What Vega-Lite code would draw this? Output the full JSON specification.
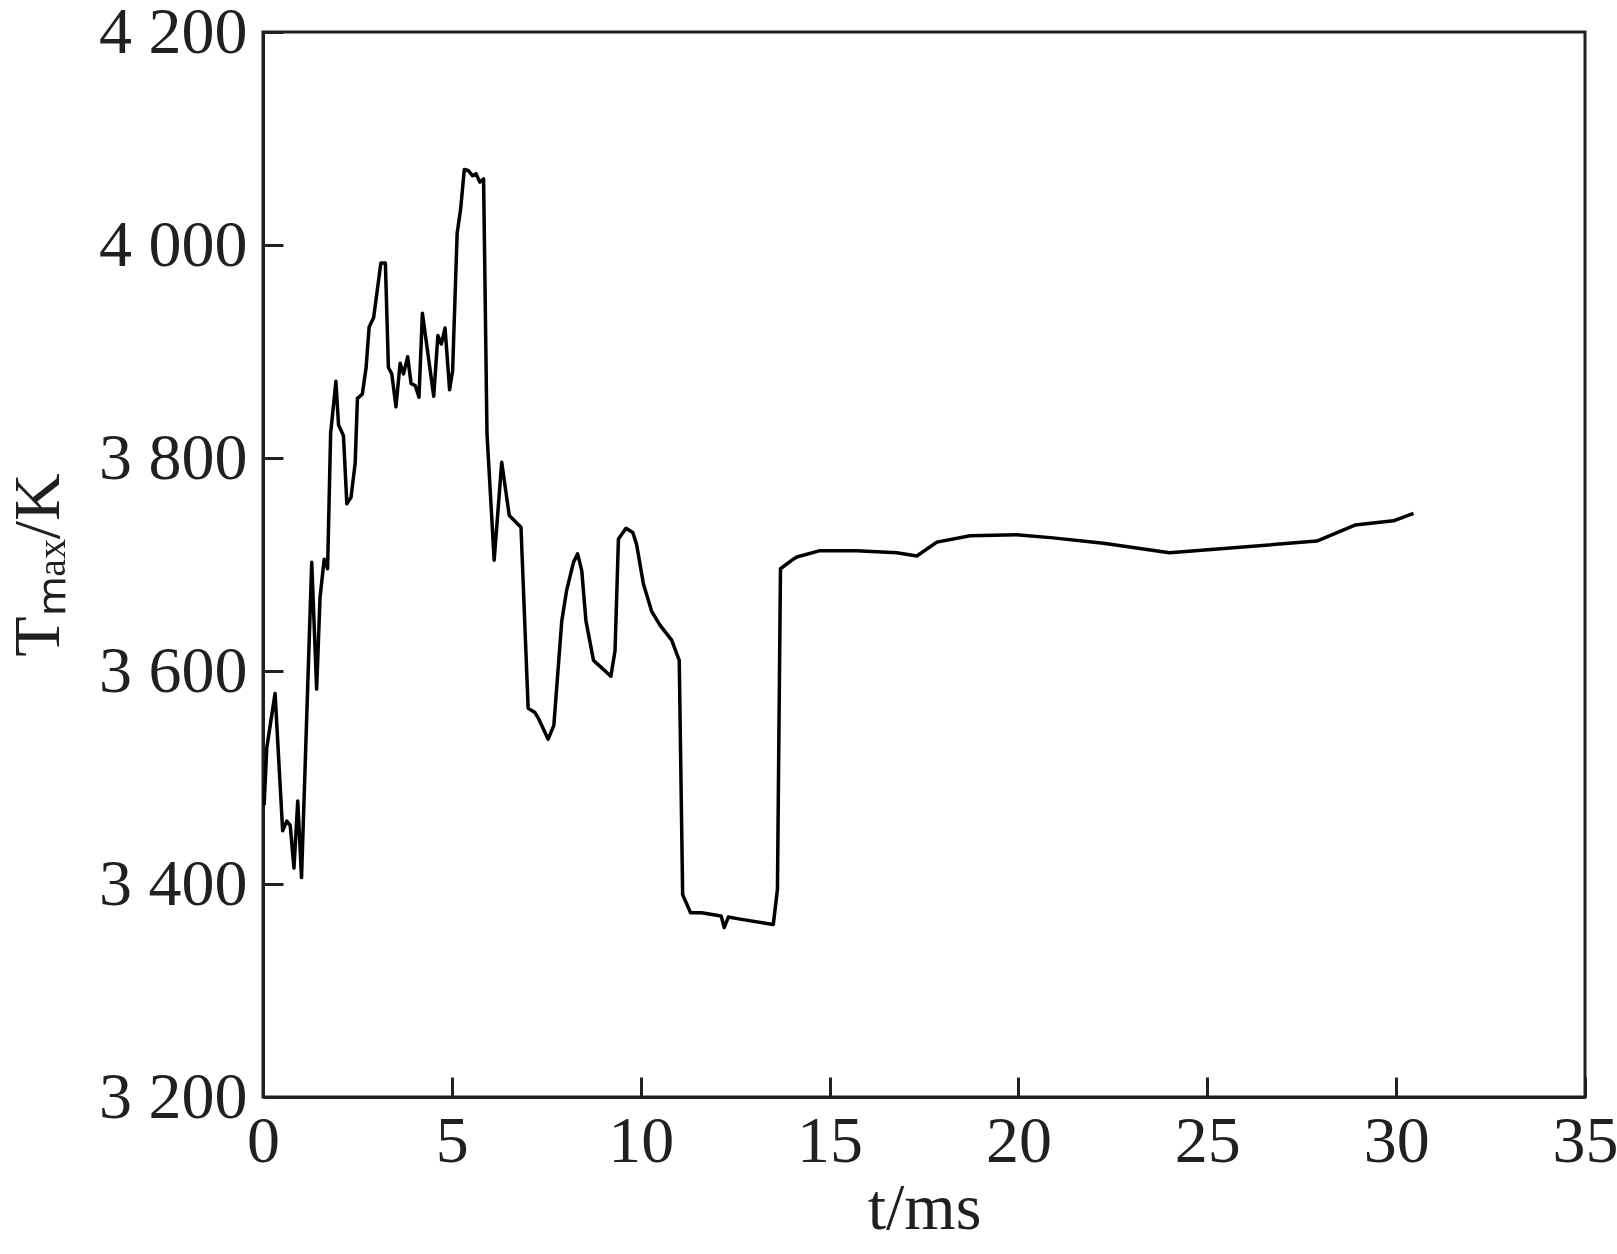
{
  "$schema": "https://vega.github.io/schema/vega-lite/v6.json",
  "width": 1322,
  "height": 1065,
  "autosize": {"type": "none"},
  "padding": {"left": 263, "top": 32, "right": 32, "bottom": 157},
  "background": "white",
  "config": {
    "view": {"stroke": "#231f20", "strokeWidth": 3},
    "font": "Liberation Serif",
    "axis": {
      "grid": false,
      "domainColor": "#231f20",
      "domainWidth": 3,
      "tickColor": "#231f20",
      "tickWidth": 3,
      "tickSize": -20,
      "labelFont": "Liberation Serif",
      "labelFontSize": 66,
      "labelColor": "#231f20",
      "titleFont": "Liberation Serif",
      "titleFontSize": 66,
      "titleFontWeight": "normal",
      "titleColor": "#231f20"
    }
  },
  "data": {
    "values": [
      {"t": 0.03, "T": 3474}, {"t": 0.10, "T": 3528}, {"t": 0.32, "T": 3579}, {"t": 0.52, "T": 3450},
      {"t": 0.63, "T": 3459}, {"t": 0.72, "T": 3455}, {"t": 0.82, "T": 3415}, {"t": 0.92, "T": 3478},
      {"t": 1.02, "T": 3406}, {"t": 1.29, "T": 3702}, {"t": 1.42, "T": 3583}, {"t": 1.51, "T": 3669},
      {"t": 1.62, "T": 3705}, {"t": 1.71, "T": 3696}, {"t": 1.79, "T": 3823}, {"t": 1.93, "T": 3872},
      {"t": 2.00, "T": 3831}, {"t": 2.13, "T": 3821}, {"t": 2.22, "T": 3757}, {"t": 2.33, "T": 3763},
      {"t": 2.44, "T": 3795}, {"t": 2.50, "T": 3856}, {"t": 2.63, "T": 3860}, {"t": 2.73, "T": 3885},
      {"t": 2.81, "T": 3923}, {"t": 2.93, "T": 3932}, {"t": 3.12, "T": 3983}, {"t": 3.24, "T": 3983},
      {"t": 3.32, "T": 3885}, {"t": 3.41, "T": 3879}, {"t": 3.52, "T": 3848}, {"t": 3.63, "T": 3889},
      {"t": 3.72, "T": 3879}, {"t": 3.83, "T": 3895}, {"t": 3.92, "T": 3870}, {"t": 4.03, "T": 3868},
      {"t": 4.13, "T": 3857}, {"t": 4.22, "T": 3936}, {"t": 4.52, "T": 3858}, {"t": 4.63, "T": 3915},
      {"t": 4.72, "T": 3907}, {"t": 4.82, "T": 3922}, {"t": 4.94, "T": 3864}, {"t": 5.02, "T": 3882},
      {"t": 5.14, "T": 4011}, {"t": 5.23, "T": 4033}, {"t": 5.33, "T": 4071}, {"t": 5.43, "T": 4070},
      {"t": 5.55, "T": 4065}, {"t": 5.64, "T": 4067}, {"t": 5.74, "T": 4059}, {"t": 5.84, "T": 4062},
      {"t": 5.93, "T": 3823}, {"t": 6.12, "T": 3704}, {"t": 6.32, "T": 3796}, {"t": 6.52, "T": 3746},
      {"t": 6.83, "T": 3735}, {"t": 7.02, "T": 3565}, {"t": 7.20, "T": 3561}, {"t": 7.30, "T": 3555},
      {"t": 7.55, "T": 3536}, {"t": 7.70, "T": 3549}, {"t": 7.91, "T": 3647}, {"t": 8.04, "T": 3676},
      {"t": 8.22, "T": 3702}, {"t": 8.33, "T": 3710}, {"t": 8.44, "T": 3694}, {"t": 8.55, "T": 3647},
      {"t": 8.75, "T": 3610}, {"t": 9.21, "T": 3595}, {"t": 9.32, "T": 3619}, {"t": 9.41, "T": 3724},
      {"t": 9.61, "T": 3734}, {"t": 9.79, "T": 3730}, {"t": 9.89, "T": 3719}, {"t": 10.07, "T": 3682},
      {"t": 10.29, "T": 3656}, {"t": 10.51, "T": 3643}, {"t": 10.82, "T": 3629}, {"t": 11.02, "T": 3610},
      {"t": 11.11, "T": 3390}, {"t": 11.32, "T": 3373}, {"t": 11.61, "T": 3373}, {"t": 12.13, "T": 3370},
      {"t": 12.21, "T": 3359}, {"t": 12.32, "T": 3369}, {"t": 12.63, "T": 3367}, {"t": 13.51, "T": 3362},
      {"t": 13.62, "T": 3395}, {"t": 13.70, "T": 3696}, {"t": 14.04, "T": 3705}, {"t": 14.13, "T": 3707},
      {"t": 14.75, "T": 3713}, {"t": 15.72, "T": 3713}, {"t": 16.78, "T": 3711}, {"t": 17.31, "T": 3708},
      {"t": 17.84, "T": 3721}, {"t": 18.72, "T": 3727}, {"t": 19.95, "T": 3728}, {"t": 20.92, "T": 3725},
      {"t": 22.25, "T": 3720}, {"t": 24.0, "T": 3711}, {"t": 27.9, "T": 3722}, {"t": 28.91, "T": 3737},
      {"t": 29.93, "T": 3741}, {"t": 30.46, "T": 3748}
    ]
  },
  "mark": {"type": "line", "color": "#000000", "strokeWidth": 3.5, "strokeJoin": "round", "clip": true},
  "encoding": {
    "x": {
      "field": "t",
      "type": "quantitative",
      "scale": {"domain": [0, 35], "nice": false, "zero": false},
      "axis": {
        "title": "t/ms",
        "values": [0, 5, 10, 15, 20, 25, 30, 35],
        "labelPadding": 32,
        "titlePadding": 2,
        "labelFlush": false
      }
    },
    "y": {
      "field": "T",
      "type": "quantitative",
      "scale": {"domain": [3200, 4200], "nice": false, "zero": false},
      "axis": {
        "title": "Tₘₐₓ/K",
        "values": [3200, 3400, 3600, 3800, 4000, 4200],
        "labelExpr": "replace(format(datum.value, ','), ',', ' ')",
        "labelPadding": 36,
        "titlePadding": 26,
        "labelFlush": false
      }
    }
  }
}
